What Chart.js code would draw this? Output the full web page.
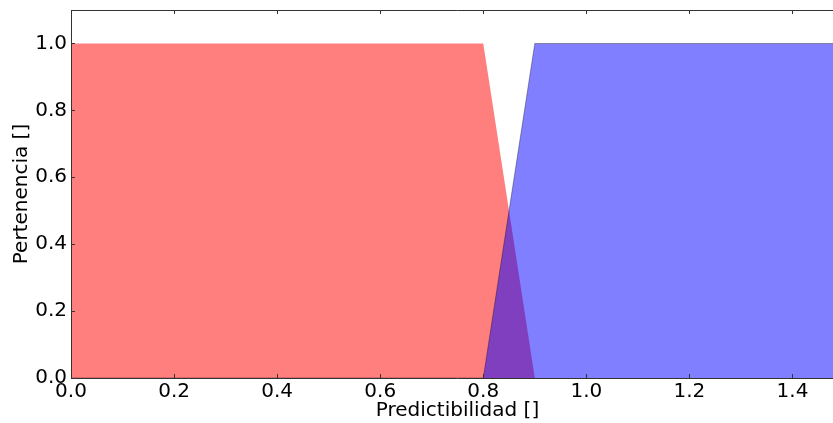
<!DOCTYPE html>
<html>
<head>
<meta charset="utf-8">
<script src="https://cdn.jsdelivr.net/npm/chart.js@4/dist/chart.umd.min.js"></script>
<style>
  html, body { margin: 0; padding: 0; overflow: hidden; background: #fff; width: 833px; height: 423px; }
  canvas { display: block; }
</style>
</head>
<body>
<canvas id="c" width="844" height="423"></canvas>
<script>
// Membership functions (trapezoids)
const bajaX = [0.0, 0.8, 0.9, 1.5];
const bajaY = [1.0, 1.0, 0.0, 0.0];
const altaX = [0.0, 0.8, 0.9, 1.5];
const altaY = [0.0, 0.0, 1.0, 1.0];
const xTicks = [0.0, 0.2, 0.4, 0.6, 0.8, 1.0, 1.2, 1.4];
const yTicks = [0.0, 0.2, 0.4, 0.6, 0.8, 1.0];
const xLabel = 'Predictibilidad []';
const yLabel = 'Pertenencia []';

const FONT = "'DejaVu Sans', sans-serif";
const AXIS_COLOR = '#333';

const pts = (xs, ys) => xs.map((x, i) => ({x: x, y: ys[i]}));

const frame = {
  id: 'frame',
  afterDraw(chart) {
    const {ctx, chartArea: a, scales: {x, y}} = chart;
    ctx.save();
    ctx.strokeStyle = AXIS_COLOR;
    ctx.lineWidth = 1;
    ctx.beginPath();
    ctx.moveTo(a.left + 0.5, a.top + 0.5); ctx.lineTo(a.left + 0.5, a.bottom + 0.5);
    ctx.moveTo(a.left, a.bottom + 0.5); ctx.lineTo(a.right, a.bottom + 0.5);
    ctx.moveTo(a.left, a.top + 0.5); ctx.lineTo(a.right, a.top + 0.5);
    ctx.moveTo(a.right - 0.5, a.top); ctx.lineTo(a.right - 0.5, a.bottom);
    const L = 4;
    xTicks.forEach(v => {
      const px = Math.round(x.getPixelForValue(v)) + 0.5;
      ctx.moveTo(px, a.bottom); ctx.lineTo(px, a.bottom - L);
      ctx.moveTo(px, a.top); ctx.lineTo(px, a.top + L);
    });
    yTicks.forEach(v => {
      const py = Math.round(y.getPixelForValue(v)) + 0.5;
      ctx.moveTo(a.left, py); ctx.lineTo(a.left + L, py);
      ctx.moveTo(a.right, py); ctx.lineTo(a.right - L, py);
    });
    ctx.stroke();
    ctx.restore();
  }
};

new Chart(document.getElementById('c'), {
  type: 'line',
  data: {
    datasets: [
      {
        label: 'Alta',
        data: pts(altaX, altaY),
        fill: 'origin',
        backgroundColor: 'rgba(0,0,255,0.5)',
        borderColor: 'rgba(0,0,0,0.35)',
        borderWidth: 1,
        pointRadius: 0,
        tension: 0
      },
      {
        label: 'Baja',
        data: pts(bajaX, bajaY),
        fill: 'origin',
        backgroundColor: 'rgba(255,0,0,0.5)',
        borderColor: 'rgba(0,0,0,0)',
        borderWidth: 0,
        pointRadius: 0,
        tension: 0
      }
    ]
  },
  options: {
    responsive: false,
    animation: false,
    events: [],
    layout: { padding: { top: 10, right: 0, left: 0, bottom: 0 } },
    plugins: { legend: { display: false }, tooltip: { enabled: false } },
    scales: {
      x: {
        type: 'linear',
        min: 0, max: 1.5,
        grid: { drawOnChartArea: false, drawTicks: false },
        border: { display: false },
        afterBuildTicks(s) { s.ticks = xTicks.map(v => ({value: v})); },
        afterFit(s) { s.height = 45; s.paddingLeft = 0; s.paddingRight = 0; },
        ticks: {
          padding: 2,
          maxRotation: 0,
          color: '#000',
          font: { family: FONT, size: 20 },
          callback: v => v.toFixed(1)
        },
        title: {
          display: true, text: xLabel, color: '#000',
          font: { family: FONT, size: 20 },
          padding: { top: 0, bottom: 0 }
        }
      },
      y: {
        type: 'linear',
        min: 0, max: 1.1,
        grid: { drawOnChartArea: false, drawTicks: false },
        border: { display: false },
        afterBuildTicks(s) { s.ticks = yTicks.map(v => ({value: v})); },
        afterFit(s) { s.width = 71; s.paddingTop = 0; s.paddingBottom = 0; },
        ticks: {
          padding: 4,
          color: '#000',
          font: { family: FONT, size: 20 },
          callback: v => v.toFixed(1)
        },
        title: {
          display: true, text: yLabel, color: '#000',
          font: { family: FONT, size: 20 },
          padding: { top: 10, bottom: 0 }
        }
      }
    }
  },
  plugins: [frame]
});
</script>
</body>
</html>
